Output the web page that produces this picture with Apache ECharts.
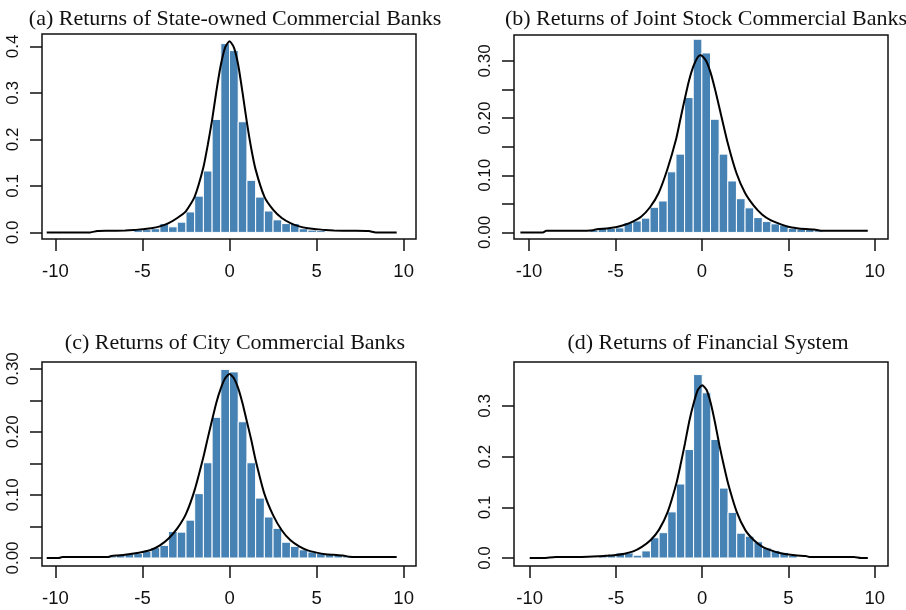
<!DOCTYPE html>
<html><head><meta charset="utf-8">
<script src="https://cdn.jsdelivr.net/npm/echarts@6/dist/echarts.min.js"></script>
<style>html,body{margin:0;padding:0;background:#fff}#c{width:906px;height:610px}</style>
</head><body><div id="c"></div>
<script>
const titles = [
  '(a) Returns of State-owned Commercial Banks',
  '(b) Returns of Joint Stock Commercial Banks',
  '(c) Returns of City Commercial Banks',
  '(d) Returns of Financial System'
];
const binWidth = 0.5;

const binsA = [-5.5,-5,-4.5,-4,-3.5,-3,-2.5,-2,-1.5,-1,-0.5,0,0.5,1,1.5,2,2.5,3,3.5,4,4.5,5];
const densA = [0.006,0.006,0.008,0.019,0.012,0.022,0.044,0.078,0.132,0.243,0.406,0.391,0.238,0.112,0.076,0.046,0.027,0.019,0.019,0.008,0.005,0.004];
const curveXA = [-10.5,-8.0,-7.6,-7,-6,-5.5,-5,-4.5,-4,-3.5,-3,-2.5,-2,-1.5,-1.25,-1,-0.75,-0.5,-0.25,0,0.25,0.5,0.75,1,1.25,1.5,2,2.5,3,3.5,4,4.5,5,5.5,6,7,8.0,8.4,9.6];
const curveYA = [0,0,0.003,0.0035,0.004,0.005,0.007,0.009,0.013,0.020,0.031,0.046,0.077,0.140,0.188,0.242,0.305,0.360,0.398,0.411,0.398,0.360,0.300,0.236,0.180,0.135,0.077,0.049,0.031,0.020,0.013,0.009,0.007,0.005,0.004,0.0035,0.003,0,0];

const binsB = [-6.5,-6,-5.5,-5,-4.5,-4,-3.5,-3,-2.5,-2,-1.5,-1,-0.5,0,0.5,1,1.5,2,2.5,3,3.5,4,4.5,5,5.5,6,6.5];
const densB = [0.004,0.008,0.007,0.008,0.017,0.020,0.025,0.044,0.055,0.106,0.137,0.236,0.338,0.314,0.198,0.137,0.090,0.059,0.043,0.026,0.019,0.015,0.013,0.007,0.006,0.005,0.003];
const curveXB = [-10.5,-9.2,-9.0,-8,-7,-6.3,-6,-5.5,-5,-4.5,-4,-3.5,-3,-2.5,-2,-1.5,-1.25,-1,-0.75,-0.5,-0.25,-0.1,0,0.25,0.5,0.75,1,1.5,2,2.5,3,3.5,4,4.5,5,5.5,6,6.5,6.9,8,9.6];
const curveYB = [0,0,0.003,0.003,0.003,0.004,0.006,0.007,0.009,0.013,0.019,0.028,0.044,0.069,0.110,0.162,0.197,0.232,0.265,0.290,0.306,0.310,0.309,0.300,0.280,0.252,0.220,0.156,0.104,0.069,0.047,0.031,0.021,0.015,0.010,0.0075,0.006,0.005,0.003,0.003,0.003];

const binsC = [-7,-6.5,-6,-5.5,-5,-4.5,-4,-3.5,-3,-2.5,-2,-1.5,-1,-0.5,0,0.5,1,1.5,2,2.5,3,3.5,4,4.5,5,5.5,6,6.5];
const densC = [0.003,0.005,0.007,0.007,0.0106,0.0165,0.020,0.042,0.041,0.060,0.102,0.151,0.223,0.299,0.295,0.216,0.151,0.095,0.065,0.047,0.025,0.0185,0.013,0.0095,0.007,0.0053,0.005,0.003];
const curveXC = [-10.5,-9.8,-9.6,-8,-7,-6.8,-6.5,-6,-5.5,-5,-4.5,-4,-3.5,-3,-2.5,-2,-1.5,-1.25,-1,-0.75,-0.5,-0.25,0,0.25,0.5,0.75,1,1.25,1.5,2,2.5,3,3.5,4,4.5,5,5.5,6,6.5,6.9,7.2,9.6];
const curveYC = [0,0,0.0015,0.0015,0.0015,0.003,0.004,0.005,0.007,0.0095,0.013,0.020,0.031,0.047,0.070,0.108,0.160,0.190,0.219,0.247,0.269,0.285,0.2915,0.285,0.269,0.245,0.216,0.187,0.155,0.102,0.068,0.044,0.028,0.0185,0.012,0.0085,0.006,0.005,0.004,0.002,0.0015,0.0015];

const binsD = [-6,-5.5,-5,-4.5,-4,-3.5,-3,-2.5,-2,-1.5,-1,-0.5,0,0.5,1,1.5,2,2.5,3,3.5,4,4.5,5];
const densD = [0.005,0.005,0.010,0.010,0.0055,0.014,0.040,0.050,0.091,0.146,0.214,0.362,0.326,0.234,0.138,0.090,0.049,0.043,0.032,0.020,0.015,0.011,0.005];
const curveXD = [-10,-9.2,-8.5,-7,-6,-5.5,-5,-4.5,-4,-3.5,-3,-2.5,-2,-1.5,-1.25,-1,-0.75,-0.5,-0.25,0,0.25,0.5,0.75,1,1.25,1.5,2,2.5,3,3.5,4,4.5,5,5.5,6,6.2,8.8,9.2,9.6];
const curveYD = [0,0,0.002,0.002,0.0033,0.0046,0.006,0.0085,0.013,0.022,0.035,0.056,0.091,0.147,0.185,0.226,0.270,0.305,0.332,0.341,0.332,0.305,0.266,0.222,0.183,0.147,0.091,0.055,0.035,0.022,0.015,0.010,0.007,0.005,0.004,0.002,0.002,0,0];

const xTicks = [-10,-5,0,5,10];
const yTicksA = [0,0.1,0.2,0.3,0.4];
const yLabelsA = [0,0.1,0.2,0.3,0.4];
const yTicksB = [0,0.05,0.1,0.15,0.2,0.25,0.3];
const yLabelsB = [0,0.1,0.2,0.3];
const yTicksC = [0,0.05,0.1,0.15,0.2,0.25,0.3];
const yLabelsC = [0,0.1,0.2,0.3];
const yTicksD = [0,0.1,0.2,0.3];
const yLabelsD = [0,0.1,0.2,0.3];

const panels = [
  {bins: binsA, dens: densA, cx: curveXA, cy: curveYA, yt: yTicksA, yl: yLabelsA, dec: 1,
   grid: {left: 42, top: 34, width: 374, height: 205}, xr: [-10.77, 10.71], yr: [-0.0142, 0.4267], tc: 230, tt: 3},
  {bins: binsB, dens: densB, cx: curveXB, cy: curveYB, yt: yTicksB, yl: yLabelsB, dec: 2,
   grid: {left: 514, top: 35, width: 374, height: 204}, xr: [-10.87, 10.77], yr: [-0.0115, 0.3454], tc: 701, tt: 3},
  {bins: binsC, dens: densC, cx: curveXC, cy: curveYC, yt: yTicksC, yl: yLabelsC, dec: 2,
   grid: {left: 42, top: 362, width: 374, height: 204}, xr: [-10.77, 10.71], yr: [-0.0127, 0.3107], tc: 230, tt: 327},
  {bins: binsD, dens: densD, cx: curveXD, cy: curveYD, yt: yTicksD, yl: yLabelsD, dec: 1,
   grid: {left: 514, top: 362, width: 374, height: 204}, xr: [-10.91, 10.77], yr: [-0.0158, 0.3868], tc: 703, tt: 327}
];

const labelFont = 'Liberation Sans, Arial, sans-serif';
const option = {
  animation: false,
  backgroundColor: '#fff',
  title: panels.map((p, i) => ({
    text: titles[i], left: p.tc, top: p.tt, textAlign: 'center',
    textStyle: {fontFamily: 'Liberation Serif, Times New Roman, serif', fontWeight: 'normal', fontSize: 22, color: '#111'}
  })),
  grid: panels.map(p => Object.assign({show: true, borderColor: '#111', borderWidth: 1.5, backgroundColor: 'transparent'}, p.grid)),
  xAxis: panels.map((p, i) => ({
    type: 'value', gridIndex: i, min: p.xr[0], max: p.xr[1],
    axisLine: {show: false, onZero: false},
    splitLine: {show: false},
    axisTick: {show: true, length: 12, lineStyle: {color: '#111', width: 1.5}, customValues: xTicks},
    axisLabel: {customValues: xTicks, margin: 23, fontSize: 18.5, color: '#111', fontFamily: labelFont, formatter: v => String(v)}
  })),
  yAxis: panels.map((p, i) => ({
    type: 'value', gridIndex: i, min: p.yr[0], max: p.yr[1],
    axisLine: {show: false, onZero: false},
    splitLine: {show: false},
    axisTick: {show: true, length: 12, lineStyle: {color: '#111', width: 1.5}, customValues: p.yt},
    axisLabel: {customValues: p.yl, rotate: 90, margin: 20, fontSize: 17, color: '#111', fontFamily: labelFont,
      formatter: v => Number(v).toFixed(p.dec)}
  })),
  series: []
};

panels.forEach((p, i) => {
  option.series.push({
    type: 'custom', xAxisIndex: i, yAxisIndex: i,
    data: p.bins.map((b, k) => [b, b + binWidth, p.dens[k]]),
    encode: {x: [0, 1], y: 2},
    renderItem: (params, api) => {
      const p0 = api.coord([api.value(0), api.value(2)]);
      const p1 = api.coord([api.value(1), 0]);
      return {type: 'rect', shape: {x: p0[0], y: p0[1], width: p1[0] - p0[0], height: p1[1] - p0[1]},
        style: {fill: '#4682B4', stroke: '#fff', lineWidth: 1}};
    },
    z: 2
  });
  option.series.push({
    type: 'line', xAxisIndex: i, yAxisIndex: i,
    data: p.cx.map((x, k) => [x, p.cy[k]]),
    showSymbol: false, symbol: 'none', smooth: 0.2,
    lineStyle: {color: '#000', width: 2},
    z: 3
  });
});

const chart = echarts.init(document.getElementById('c'), null, {renderer: 'canvas'});
chart.setOption(option);
</script>
</body></html>
